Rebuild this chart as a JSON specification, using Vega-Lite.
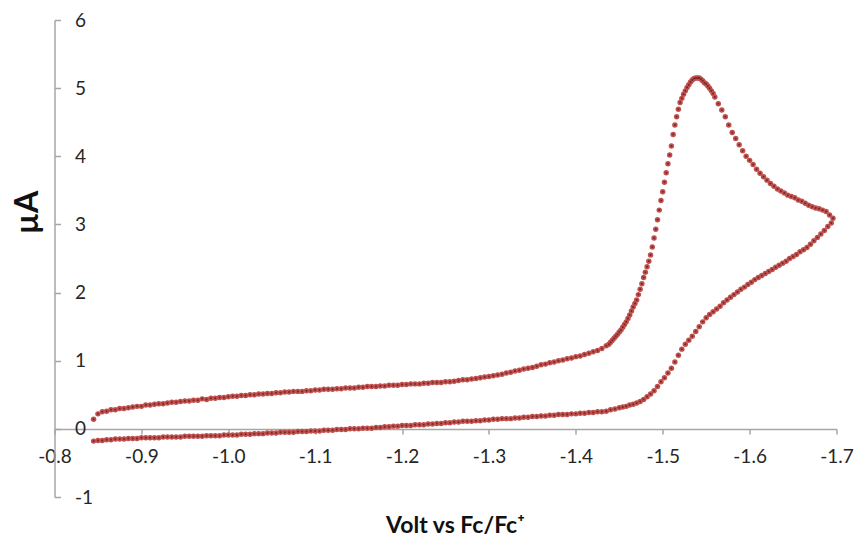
{
"$schema": "https://vega.github.io/schema/vega-lite/v6.json",
"width": 782, "height": 477,
"autosize": "none",
"padding": {"left": 54.5, "top": 20, "right": 19.5, "bottom": 44},
"background": "white",
"config": {"view": {"stroke": null}},
"data": {"values": [
{"volt":-0.845,"uA":0.14},{"volt":-0.850,"uA":0.22},{"volt":-0.855,"uA":0.25},{"volt":-0.860,"uA":0.26},{"volt":-0.865,"uA":0.28},{"volt":-0.870,"uA":0.28},{"volt":-0.875,"uA":0.30},{"volt":-0.880,"uA":0.30},{"volt":-0.885,"uA":0.31},{"volt":-0.890,"uA":0.32},
{"volt":-0.895,"uA":0.33},{"volt":-0.900,"uA":0.33},{"volt":-0.905,"uA":0.35},{"volt":-0.910,"uA":0.35},{"volt":-0.915,"uA":0.36},{"volt":-0.920,"uA":0.37},{"volt":-0.925,"uA":0.37},{"volt":-0.930,"uA":0.38},{"volt":-0.935,"uA":0.39},{"volt":-0.940,"uA":0.39},
{"volt":-0.945,"uA":0.40},{"volt":-0.950,"uA":0.41},{"volt":-0.955,"uA":0.41},{"volt":-0.960,"uA":0.42},{"volt":-0.965,"uA":0.42},{"volt":-0.970,"uA":0.44},{"volt":-0.975,"uA":0.43},{"volt":-0.980,"uA":0.45},{"volt":-0.985,"uA":0.45},{"volt":-0.990,"uA":0.46},
{"volt":-0.995,"uA":0.46},{"volt":-1.000,"uA":0.47},{"volt":-1.005,"uA":0.48},{"volt":-1.010,"uA":0.48},{"volt":-1.015,"uA":0.49},{"volt":-1.020,"uA":0.49},{"volt":-1.025,"uA":0.50},{"volt":-1.030,"uA":0.50},{"volt":-1.035,"uA":0.51},{"volt":-1.040,"uA":0.51},
{"volt":-1.045,"uA":0.52},{"volt":-1.050,"uA":0.52},{"volt":-1.055,"uA":0.53},{"volt":-1.060,"uA":0.53},{"volt":-1.065,"uA":0.54},{"volt":-1.070,"uA":0.54},{"volt":-1.075,"uA":0.55},{"volt":-1.080,"uA":0.55},{"volt":-1.085,"uA":0.55},{"volt":-1.090,"uA":0.56},
{"volt":-1.095,"uA":0.56},{"volt":-1.100,"uA":0.57},{"volt":-1.105,"uA":0.57},{"volt":-1.110,"uA":0.58},{"volt":-1.115,"uA":0.58},{"volt":-1.120,"uA":0.58},{"volt":-1.125,"uA":0.59},{"volt":-1.130,"uA":0.59},{"volt":-1.135,"uA":0.60},{"volt":-1.140,"uA":0.60},
{"volt":-1.145,"uA":0.60},{"volt":-1.150,"uA":0.61},{"volt":-1.155,"uA":0.61},{"volt":-1.160,"uA":0.62},{"volt":-1.165,"uA":0.62},{"volt":-1.170,"uA":0.62},{"volt":-1.175,"uA":0.63},{"volt":-1.180,"uA":0.63},{"volt":-1.185,"uA":0.64},{"volt":-1.190,"uA":0.64},
{"volt":-1.195,"uA":0.64},{"volt":-1.200,"uA":0.65},{"volt":-1.205,"uA":0.65},{"volt":-1.210,"uA":0.66},{"volt":-1.215,"uA":0.66},{"volt":-1.220,"uA":0.66},{"volt":-1.225,"uA":0.67},{"volt":-1.230,"uA":0.67},{"volt":-1.235,"uA":0.68},{"volt":-1.240,"uA":0.68},
{"volt":-1.245,"uA":0.68},{"volt":-1.250,"uA":0.69},{"volt":-1.255,"uA":0.69},{"volt":-1.260,"uA":0.70},{"volt":-1.265,"uA":0.71},{"volt":-1.270,"uA":0.72},{"volt":-1.275,"uA":0.72},{"volt":-1.280,"uA":0.73},{"volt":-1.285,"uA":0.74},{"volt":-1.290,"uA":0.75},
{"volt":-1.295,"uA":0.76},{"volt":-1.300,"uA":0.77},{"volt":-1.305,"uA":0.78},{"volt":-1.310,"uA":0.79},{"volt":-1.315,"uA":0.80},{"volt":-1.320,"uA":0.82},{"volt":-1.325,"uA":0.83},{"volt":-1.330,"uA":0.85},{"volt":-1.335,"uA":0.86},{"volt":-1.340,"uA":0.88},
{"volt":-1.345,"uA":0.89},{"volt":-1.350,"uA":0.90},{"volt":-1.355,"uA":0.92},{"volt":-1.360,"uA":0.94},{"volt":-1.365,"uA":0.95},{"volt":-1.370,"uA":0.97},{"volt":-1.375,"uA":0.98},{"volt":-1.380,"uA":1.00},{"volt":-1.385,"uA":1.01},{"volt":-1.390,"uA":1.03},
{"volt":-1.395,"uA":1.04},{"volt":-1.400,"uA":1.06},{"volt":-1.405,"uA":1.07},{"volt":-1.410,"uA":1.09},{"volt":-1.415,"uA":1.11},{"volt":-1.420,"uA":1.13},{"volt":-1.425,"uA":1.15},{"volt":-1.430,"uA":1.18},{"volt":-1.435,"uA":1.22},{"volt":-1.438,"uA":1.24},
{"volt":-1.440,"uA":1.27},
{"volt":-1.442,"uA":1.30},{"volt":-1.444,"uA":1.33},{"volt":-1.446,"uA":1.36},{"volt":-1.448,"uA":1.39},{"volt":-1.450,"uA":1.42},{"volt":-1.452,"uA":1.45},{"volt":-1.454,"uA":1.49},{"volt":-1.456,"uA":1.53},{"volt":-1.458,"uA":1.57},{"volt":-1.460,"uA":1.62},
{"volt":-1.462,"uA":1.67},{"volt":-1.464,"uA":1.73},{"volt":-1.466,"uA":1.79},{"volt":-1.468,"uA":1.84},{"volt":-1.470,"uA":1.89},{"volt":-1.472,"uA":1.97},{"volt":-1.474,"uA":2.05},{"volt":-1.476,"uA":2.13},{"volt":-1.478,"uA":2.22},{"volt":-1.480,"uA":2.30},
{"volt":-1.482,"uA":2.38},{"volt":-1.484,"uA":2.46},{"volt":-1.486,"uA":2.55},{"volt":-1.488,"uA":2.67},{"volt":-1.490,"uA":2.80},{"volt":-1.492,"uA":2.93},{"volt":-1.494,"uA":3.07},{"volt":-1.496,"uA":3.21},{"volt":-1.498,"uA":3.35},{"volt":-1.500,"uA":3.48},
{"volt":-1.502,"uA":3.62},{"volt":-1.504,"uA":3.76},{"volt":-1.506,"uA":3.89},{"volt":-1.508,"uA":4.02},{"volt":-1.510,"uA":4.15},{"volt":-1.512,"uA":4.32},{"volt":-1.514,"uA":4.46},{"volt":-1.516,"uA":4.58},{"volt":-1.518,"uA":4.69},{"volt":-1.520,"uA":4.79},
{"volt":-1.522,"uA":4.85},{"volt":-1.524,"uA":4.91},{"volt":-1.526,"uA":4.96},{"volt":-1.528,"uA":5.01},{"volt":-1.530,"uA":5.05},{"volt":-1.532,"uA":5.09},{"volt":-1.534,"uA":5.12},{"volt":-1.536,"uA":5.14},{"volt":-1.538,"uA":5.15},{"volt":-1.540,"uA":5.15},
{"volt":-1.542,"uA":5.15},{"volt":-1.544,"uA":5.13},{"volt":-1.546,"uA":5.11},{"volt":-1.548,"uA":5.08},{"volt":-1.550,"uA":5.06},{"volt":-1.552,"uA":5.03},{"volt":-1.554,"uA":5.00},{"volt":-1.556,"uA":4.96},{"volt":-1.558,"uA":4.92},{"volt":-1.560,"uA":4.87},
{"volt":-1.564,"uA":4.77},{"volt":-1.568,"uA":4.68},{"volt":-1.572,"uA":4.58},{"volt":-1.576,"uA":4.46},{"volt":-1.580,"uA":4.35},{"volt":-1.584,"uA":4.26},{"volt":-1.588,"uA":4.17},{"volt":-1.592,"uA":4.08},{"volt":-1.596,"uA":4.00},{"volt":-1.600,"uA":3.94},
{"volt":-1.604,"uA":3.88},{"volt":-1.608,"uA":3.81},{"volt":-1.612,"uA":3.75},{"volt":-1.616,"uA":3.70},{"volt":-1.620,"uA":3.65},{"volt":-1.624,"uA":3.60},{"volt":-1.628,"uA":3.56},{"volt":-1.632,"uA":3.52},{"volt":-1.636,"uA":3.49},{"volt":-1.640,"uA":3.46},
{"volt":-1.644,"uA":3.43},{"volt":-1.648,"uA":3.41},{"volt":-1.652,"uA":3.39},{"volt":-1.656,"uA":3.36},{"volt":-1.660,"uA":3.34},{"volt":-1.664,"uA":3.31},{"volt":-1.668,"uA":3.28},{"volt":-1.672,"uA":3.26},{"volt":-1.676,"uA":3.24},{"volt":-1.680,"uA":3.23},
{"volt":-1.684,"uA":3.21},{"volt":-1.688,"uA":3.19},{"volt":-1.692,"uA":3.14},{"volt":-1.696,"uA":3.09},
{"volt":-1.694,"uA":3.02},{"volt":-1.690,"uA":2.97},{"volt":-1.686,"uA":2.91},{"volt":-1.682,"uA":2.86},{"volt":-1.678,"uA":2.81},{"volt":-1.674,"uA":2.76},{"volt":-1.670,"uA":2.71},{"volt":-1.666,"uA":2.66},{"volt":-1.662,"uA":2.63},{"volt":-1.658,"uA":2.60},
{"volt":-1.654,"uA":2.56},{"volt":-1.650,"uA":2.53},{"volt":-1.646,"uA":2.50},{"volt":-1.642,"uA":2.46},{"volt":-1.638,"uA":2.43},{"volt":-1.634,"uA":2.40},{"volt":-1.630,"uA":2.37},{"volt":-1.626,"uA":2.34},{"volt":-1.622,"uA":2.31},{"volt":-1.618,"uA":2.28},
{"volt":-1.614,"uA":2.25},{"volt":-1.610,"uA":2.22},{"volt":-1.606,"uA":2.19},{"volt":-1.602,"uA":2.15},{"volt":-1.598,"uA":2.12},{"volt":-1.594,"uA":2.08},{"volt":-1.590,"uA":2.05},{"volt":-1.586,"uA":2.01},{"volt":-1.582,"uA":1.97},{"volt":-1.578,"uA":1.93},
{"volt":-1.574,"uA":1.89},{"volt":-1.570,"uA":1.85},{"volt":-1.566,"uA":1.80},{"volt":-1.562,"uA":1.76},{"volt":-1.558,"uA":1.72},{"volt":-1.554,"uA":1.68},{"volt":-1.550,"uA":1.63},{"volt":-1.546,"uA":1.57},{"volt":-1.542,"uA":1.50},{"volt":-1.538,"uA":1.43},
{"volt":-1.534,"uA":1.36},{"volt":-1.530,"uA":1.30},{"volt":-1.526,"uA":1.24},{"volt":-1.522,"uA":1.17},{"volt":-1.518,"uA":1.08},{"volt":-1.514,"uA":0.98},{"volt":-1.510,"uA":0.89},{"volt":-1.506,"uA":0.82},{"volt":-1.502,"uA":0.75},{"volt":-1.498,"uA":0.69},
{"volt":-1.494,"uA":0.62},{"volt":-1.490,"uA":0.56},{"volt":-1.486,"uA":0.51},{"volt":-1.482,"uA":0.47},{"volt":-1.478,"uA":0.43},{"volt":-1.474,"uA":0.40},{"volt":-1.470,"uA":0.38},{"volt":-1.466,"uA":0.36},{"volt":-1.462,"uA":0.35},{"volt":-1.458,"uA":0.33},
{"volt":-1.454,"uA":0.32},{"volt":-1.450,"uA":0.31},{"volt":-1.445,"uA":0.29},{"volt":-1.440,"uA":0.28},{"volt":-1.435,"uA":0.26},{"volt":-1.430,"uA":0.25},{"volt":-1.425,"uA":0.25},{"volt":-1.420,"uA":0.24},{"volt":-1.415,"uA":0.24},{"volt":-1.410,"uA":0.23},
{"volt":-1.405,"uA":0.23},{"volt":-1.400,"uA":0.22},{"volt":-1.395,"uA":0.22},{"volt":-1.390,"uA":0.21},{"volt":-1.385,"uA":0.21},{"volt":-1.380,"uA":0.21},{"volt":-1.375,"uA":0.20},{"volt":-1.370,"uA":0.20},{"volt":-1.365,"uA":0.19},{"volt":-1.360,"uA":0.19},
{"volt":-1.355,"uA":0.18},{"volt":-1.350,"uA":0.18},{"volt":-1.345,"uA":0.17},{"volt":-1.340,"uA":0.17},{"volt":-1.335,"uA":0.16},{"volt":-1.330,"uA":0.16},{"volt":-1.325,"uA":0.15},{"volt":-1.320,"uA":0.15},{"volt":-1.315,"uA":0.15},{"volt":-1.310,"uA":0.14},
{"volt":-1.305,"uA":0.14},{"volt":-1.300,"uA":0.13},{"volt":-1.295,"uA":0.13},{"volt":-1.290,"uA":0.12},{"volt":-1.285,"uA":0.12},{"volt":-1.280,"uA":0.11},{"volt":-1.275,"uA":0.11},{"volt":-1.270,"uA":0.11},{"volt":-1.265,"uA":0.10},{"volt":-1.260,"uA":0.10},
{"volt":-1.255,"uA":0.09},{"volt":-1.250,"uA":0.09},{"volt":-1.245,"uA":0.08},{"volt":-1.240,"uA":0.08},{"volt":-1.235,"uA":0.07},{"volt":-1.230,"uA":0.07},{"volt":-1.225,"uA":0.06},{"volt":-1.220,"uA":0.06},{"volt":-1.215,"uA":0.06},{"volt":-1.210,"uA":0.05},
{"volt":-1.205,"uA":0.05},{"volt":-1.200,"uA":0.05},{"volt":-1.195,"uA":0.04},{"volt":-1.190,"uA":0.04},{"volt":-1.185,"uA":0.03},{"volt":-1.180,"uA":0.03},{"volt":-1.175,"uA":0.02},{"volt":-1.170,"uA":0.02},{"volt":-1.165,"uA":0.01},{"volt":-1.160,"uA":0.01},
{"volt":-1.155,"uA":0.01},{"volt":-1.150,"uA":0.00},{"volt":-1.145,"uA":0.00},{"volt":-1.140,"uA":0.00},{"volt":-1.135,"uA":-0.01},{"volt":-1.130,"uA":-0.01},{"volt":-1.125,"uA":-0.01},{"volt":-1.120,"uA":-0.02},{"volt":-1.115,"uA":-0.02},{"volt":-1.110,"uA":-0.02},
{"volt":-1.105,"uA":-0.03},{"volt":-1.100,"uA":-0.03},{"volt":-1.095,"uA":-0.03},{"volt":-1.090,"uA":-0.04},{"volt":-1.085,"uA":-0.04},{"volt":-1.080,"uA":-0.04},{"volt":-1.075,"uA":-0.05},{"volt":-1.070,"uA":-0.05},{"volt":-1.065,"uA":-0.05},{"volt":-1.060,"uA":-0.05},
{"volt":-1.055,"uA":-0.06},{"volt":-1.050,"uA":-0.06},{"volt":-1.045,"uA":-0.06},{"volt":-1.040,"uA":-0.07},{"volt":-1.035,"uA":-0.07},{"volt":-1.030,"uA":-0.07},{"volt":-1.025,"uA":-0.08},{"volt":-1.020,"uA":-0.08},{"volt":-1.015,"uA":-0.08},{"volt":-1.010,"uA":-0.09},
{"volt":-1.005,"uA":-0.09},{"volt":-1.000,"uA":-0.09},{"volt":-0.995,"uA":-0.09},{"volt":-0.990,"uA":-0.10},{"volt":-0.985,"uA":-0.10},{"volt":-0.980,"uA":-0.10},{"volt":-0.975,"uA":-0.10},{"volt":-0.970,"uA":-0.11},{"volt":-0.965,"uA":-0.11},{"volt":-0.960,"uA":-0.11},
{"volt":-0.955,"uA":-0.11},{"volt":-0.950,"uA":-0.11},{"volt":-0.945,"uA":-0.12},{"volt":-0.940,"uA":-0.12},{"volt":-0.935,"uA":-0.12},{"volt":-0.930,"uA":-0.12},{"volt":-0.925,"uA":-0.12},{"volt":-0.920,"uA":-0.13},{"volt":-0.915,"uA":-0.13},{"volt":-0.910,"uA":-0.13},
{"volt":-0.905,"uA":-0.13},{"volt":-0.900,"uA":-0.13},{"volt":-0.895,"uA":-0.14},{"volt":-0.890,"uA":-0.14},{"volt":-0.885,"uA":-0.14},{"volt":-0.880,"uA":-0.15},{"volt":-0.875,"uA":-0.15},{"volt":-0.870,"uA":-0.15},{"volt":-0.865,"uA":-0.16},{"volt":-0.860,"uA":-0.16},
{"volt":-0.855,"uA":-0.17},{"volt":-0.850,"uA":-0.17},{"volt":-0.845,"uA":-0.18}
]},
"encoding": {
  "x": {"field": "volt", "type": "quantitative",
        "scale": {"domain": [-1.7, -0.8], "reverse": true, "nice": false, "zero": false},
        "axis": {"values": [-0.8, -0.9, -1.0, -1.1, -1.2, -1.3, -1.4, -1.5, -1.6, -1.7],
                 "offset": -68.1, "grid": false,
                 "domainColor": "#a6a6a6", "domainWidth": 1.5, "tickColor": "#a6a6a6", "tickWidth": 1.5, "tickSize": 5,
                 "labelFont": "Lato", "labelFontSize": 19, "labelColor": "#262626", "labelPadding": 14,
                 "labelOverlap": false, "labelFlush": false,
                 "labelExpr": "replace(format(datum.value, '.1f'), '\u2212', '-')",
                 "title": "Volt vs Fc/Fc⁺", "titleFont": "Lato", "titleFontSize": 23, "titleFontWeight": "bold", "titleColor": "#111111",
                 "titleX": 400.5, "titleY": 97, "titleBaseline": "middle", "titleAlign": "center"}},
  "y": {"field": "uA", "type": "quantitative",
        "scale": {"domain": [-1, 6], "nice": false, "zero": false},
        "axis": {"values": [-1, 0, 1, 2, 3, 4, 5, 6], "grid": false,
                 "domainColor": "#a6a6a6", "domainWidth": 1.5, "tickColor": "#a6a6a6", "tickWidth": 1.5, "tickSize": -6,
                 "labelFont": "Lato", "labelFontSize": 19, "labelColor": "#262626", "labelAlign": "left", "labelPadding": -14,
                 "labelOverlap": false, "labelFlush": false,
                 "labelExpr": "replace(format(datum.value, 'd'), '\u2212', '-')",
                 "title": "µA", "titleFont": "Lato", "titleFontSize": 32, "titleFontWeight": "bold", "titleColor": "#111111",
                 "titleX": -27.5, "titleY": 192, "titleAngle": -90, "titleBaseline": "middle", "titleAlign": "center"}}
},
"layer": [
  {"mark": {"type": "point", "filled": true, "shape": "circle", "size": 30, "color": "#c0504d", "opacity": 1, "strokeWidth": 0}},
  {"mark": {"type": "point", "filled": true, "shape": "circle", "size": 4, "color": "#3d0a0a", "opacity": 0.6, "strokeWidth": 0}}
]
}
